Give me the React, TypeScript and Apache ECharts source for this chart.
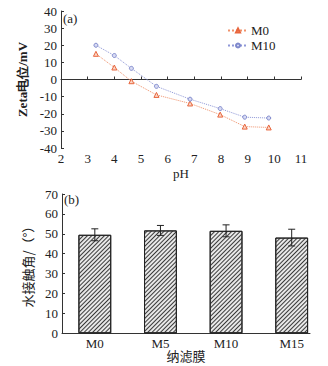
import React, { useEffect, useRef } from "react";
import * as echarts from "echarts";

const phValues = [3.31, 4.0, 4.64, 5.58, 6.84, 7.97, 8.89, 9.79];
const zetaM0 = [15, 7, -1, -9, -14, -20.5, -27.5, -28];
const zetaM10 = [20, 14, 6.5, -4, -11.5, -17, -22, -22.5];
const membranes = ["M0", "M5", "M10", "M15"];
const contactAngle = [49.5, 51.7, 51.5, 48.1];
const contactErr = [3, 2.5, 3, 4.2];

const SERIF = "Liberation Serif";

export default function App() {
  const ref = useRef<HTMLDivElement>(null);
  useEffect(() => {
    if (!ref.current) return;
    const chart = echarts.init(ref.current, null, { renderer: "svg" });
    const txt = { fontFamily: SERIF, fontSize: 12, color: "#222" };
    const option: any = {
      animation: false,
      backgroundColor: "#fff",
      textStyle: { fontFamily: SERIF },
      grid: [
        { left: 61, right: 27, top: 11, bottom: 218 },
        { left: 62, right: 3.5, top: 194, bottom: 32.7 },
        { left: 62, right: 18, top: 194, bottom: 32.7 },
      ],
      legend: {
        left: 222,
        top: 19,
        orient: "vertical",
        itemWidth: 20,
        itemHeight: 5,
        itemGap: 2,
        data: ["M0", "M10"],
        textStyle: { fontFamily: SERIF, fontSize: 13, color: "#222", padding: [0, 0, 0, -2] },
      },
      xAxis: [
        {
          type: "value",
          gridIndex: 0,
          min: 2,
          max: 11,
          interval: 1,
          splitLine: { show: false },
          axisLine: { lineStyle: { color: "#333" } },
          axisTick: { inside: true, length: 3, lineStyle: { color: "#333" } },
          axisLabel: { ...txt, fontSize: 13, margin: 4 },
          name: "pH",
          nameLocation: "middle",
          nameGap: 19,
          nameTextStyle: { ...txt, fontSize: 13 },
        },
        {
          type: "category",
          gridIndex: 1,
          data: membranes,
          boundaryGap: true,
          axisLine: { show: false },
          axisTick: { show: false },
          axisLabel: { ...txt, fontSize: 13, margin: 4 },
        },
        {
          type: "value",
          gridIndex: 2,
          min: 0,
          max: 1,
          splitLine: { show: false },
          axisLine: { lineStyle: { color: "#333" } },
          axisTick: { show: false },
          axisLabel: { show: false },
          name: "纳滤膜",
          nameLocation: "middle",
          nameGap: 16,
          nameTextStyle: { fontFamily: "Noto Sans CJK SC", fontSize: 13, color: "#222" },
        },
      ],
      yAxis: [
        {
          type: "value",
          gridIndex: 0,
          min: -40,
          max: 40,
          interval: 10,
          splitLine: { show: false },
          axisLine: { show: true, lineStyle: { color: "#333" } },
          axisTick: { show: true, inside: true, length: 3, lineStyle: { color: "#333" } },
          axisLabel: { ...txt, fontSize: 13, margin: 4 },
          name: "Zeta电位/mV",
          nameLocation: "middle",
          nameGap: 24,
          nameTextStyle: { ...txt, fontSize: 13, fontWeight: "bold" },
        },
        {
          type: "value",
          gridIndex: 1,
          min: 0,
          max: 70,
          show: false,
        },
        {
          type: "value",
          gridIndex: 2,
          min: 0,
          max: 70,
          interval: 10,
          splitLine: { show: false },
          axisLine: { show: true, lineStyle: { color: "#333" } },
          axisTick: { show: true, inside: true, length: 3, lineStyle: { color: "#333" } },
          axisLabel: { ...txt, fontSize: 13, margin: 4 },
          name: "水接触角/（°）",
          nameLocation: "middle",
          nameGap: 21,
          nameTextStyle: { fontFamily: "Noto Sans CJK SC", fontSize: 13, color: "#222" },
        },
      ],
      graphic: [
        { type: "text", left: 63, top: 12, style: { text: "(a)", font: `13px ${SERIF}`, fill: "#222" } },
        { type: "text", left: 64, top: 193, style: { text: "(b)", font: `13px ${SERIF}`, fill: "#222" } },
      ],
      series: [
        {
          name: "M0",
          type: "line",
          xAxisIndex: 0,
          yAxisIndex: 0,
          data: phValues.map((x, i) => [x, zetaM0[i]]),
          symbol: "triangle",
          symbolSize: 5,
          lineStyle: { color: "#f0916a", width: 1, type: "dotted" },
          itemStyle: { color: "#fbd5c4", borderColor: "#e8663e", borderWidth: 1 },
        },
        {
          name: "M10",
          type: "line",
          xAxisIndex: 0,
          yAxisIndex: 0,
          data: phValues.map((x, i) => [x, zetaM10[i]]),
          symbol: "circle",
          symbolSize: 4,
          lineStyle: { color: "#8f98d8", width: 1, type: "dotted" },
          itemStyle: { color: "#d8dbf4", borderColor: "#7f89cc", borderWidth: 1 },
        },
        {
          name: "angle",
          type: "bar",
          xAxisIndex: 1,
          yAxisIndex: 1,
          data: contactAngle,
          barWidth: "50%",
          itemStyle: {
            color: "#e8e8e8",
            borderColor: "#222",
            borderWidth: 1,
            decal: {
              symbol: "rect",
              symbolSize: 1,
              dashArrayX: [1, 0],
              dashArrayY: [1, 1.2],
              rotation: -Math.PI / 4,
              color: "#3a3a3a",
            },
          },
        },
        {
          name: "err",
          type: "custom",
          xAxisIndex: 1,
          yAxisIndex: 1,
          data: contactAngle.map((v, i) => [i, v - contactErr[i], v + contactErr[i]]),
          renderItem: (params: any, api: any) => {
            const x = api.value(0);
            const lo = api.coord([x, api.value(1)]);
            const hi = api.coord([x, api.value(2)]);
            const cw = 3.5;
            const st = { stroke: "#222", lineWidth: 1 };
            return {
              type: "group",
              children: [
                { type: "line", shape: { x1: hi[0], y1: hi[1], x2: lo[0], y2: lo[1] }, style: st },
                { type: "line", shape: { x1: hi[0] - cw, y1: hi[1], x2: hi[0] + cw, y2: hi[1] }, style: st },
                { type: "line", shape: { x1: lo[0] - cw, y1: lo[1], x2: lo[0] + cw, y2: lo[1] }, style: st },
              ],
            };
          },
          z: 5,
        },
      ],
    };
    chart.setOption(option);
    return () => chart.dispose();
  }, []);
  return (
    <div
      ref={ref}
      style={{ position: "fixed", left: 0, top: 0, width: 328, height: 366, background: "#fff" }}
    />
  );
}
